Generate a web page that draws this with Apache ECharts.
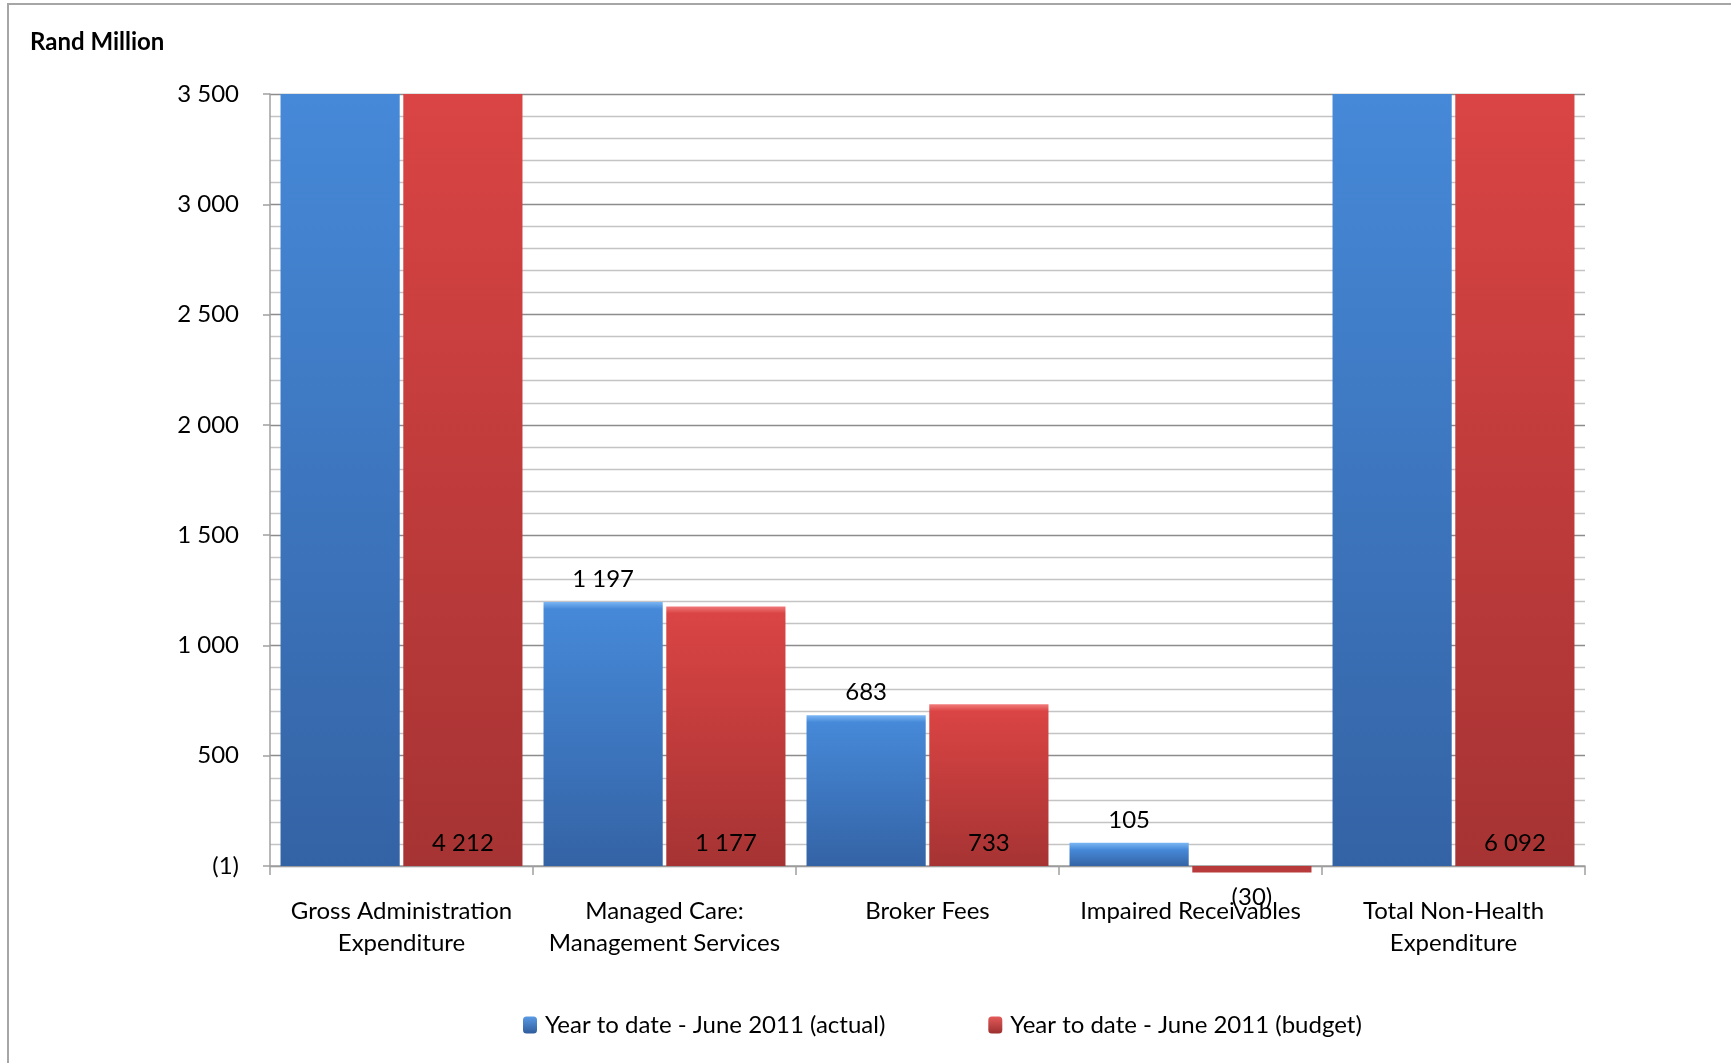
<!DOCTYPE html>
<html>
<head>
<meta charset="utf-8">
<title>Non-Health Expenditure</title>
<script src="https://cdn.jsdelivr.net/npm/echarts@6/dist/echarts.min.js"></script>
<style>
  html, body { margin: 0; padding: 0; background: #fff; }
  #chart { width: 1731px; height: 1063px; }
</style>
</head>
<body>
<div id="chart"></div>
<script>
// Expenditure categories (x axis)
const categories = [
  'Gross Administration\nExpenditure',
  'Managed Care:\nManagement Services',
  'Broker Fees',
  'Impaired Receivables',
  'Total Non-Health\nExpenditure'
];

// Rand million, year to date June 2011
const actualValues = [4050, 1197, 683, 105, 6035];
const budgetValues = [4212, 1177, 733, -30, 6092];

// Value axis
const yMin = 0;
const yMax = 3500;
const yStep = 500;
const yTickLabels = ['(1)', '500', '1 000', '1 500', '2 000', '2 500', '3 000', '3 500'];

const seriesNames = ['Year to date - June 2011 (actual)', 'Year to date - June 2011 (budget)'];

const FONT = 'Lato, "Open Sans", sans-serif';
const CHART_H = 1063;
const GRID = { left: 270, right: 146, top: 94, bottom: 197 };
const PLOT_H = CHART_H - GRID.top - GRID.bottom;
const BEVEL_PX = 7;

function fmt(v) {
  const s = Math.abs(v).toString().replace(/\B(?=(\d{3})+(?!\d))/g, ' ');
  return v < 0 ? '(' + s + ')' : s;
}

// Vertical shading; bars whose top is inside the plot get a lighter bevelled top edge
function barFill(v, pal) {
  const stops = [];
  if (v > 0 && v <= yMax) {
    const h = v / (yMax - yMin) * PLOT_H;
    const b = Math.min(0.45, BEVEL_PX / h);
    stops.push({ offset: 0, color: pal.edge });
    stops.push({ offset: b, color: pal.top });
  } else {
    stops.push({ offset: 0, color: pal.top });
  }
  stops.push({ offset: 1, color: pal.bottom });
  return new echarts.graphic.LinearGradient(0, 0, 0, 1, stops);
}

const bluePal = { edge: '#7ab6f4', top: '#4689d8', bottom: '#3463a5' };
const redPal = { edge: '#f27a7a', top: '#da4444', bottom: '#a63333' };

const labelFont = { fontFamily: FONT, fontSize: 24, color: '#000' };

const actualData = actualValues.map(v => ({
  value: v,
  itemStyle: { color: barFill(v, bluePal) },
  label: { show: v <= yMax, position: 'top', distance: 11, formatter: p => fmt(p.value), ...labelFont }
}));

const budgetPositive = budgetValues.map(v => v >= 0 ? {
  value: v,
  itemStyle: { color: barFill(v, redPal) },
  label: { show: true, position: 'insideBottom', distance: 11, formatter: p => fmt(p.value), ...labelFont }
} : '-');

const budgetNegative = budgetValues.map(v => v < 0 ? {
  value: v,
  itemStyle: { color: '#b83a3a' },
  label: { show: true, position: 'bottom', distance: 13, formatter: p => fmt(p.value), ...labelFont }
} : '-');

const chart = echarts.init(document.getElementById('chart'), null, { renderer: 'canvas' });

chart.setOption({
  animation: false,
  backgroundColor: '#fff',
  graphic: [{
    type: 'rect',
    shape: { x: 8, y: 4, width: 1800, height: 1200 },
    style: { fill: 'none', stroke: '#a6a6a6', lineWidth: 2 },
    silent: true,
    z: -10
  }],
  title: {
    text: 'Rand Million',
    left: 25,
    top: 25,
    textStyle: { fontFamily: FONT, fontSize: 24, fontWeight: 'bold', color: '#000' }
  },
  legend: {
    left: 518,
    top: 1008,
    itemWidth: 14,
    itemHeight: 17,
    itemGap: 103,
    data: [
      { name: seriesNames[0], itemStyle: { color: new echarts.graphic.LinearGradient(0, 0, 0, 1, [{ offset: 0, color: '#5a9ae4' }, { offset: 1, color: '#2f5c9c' }]) } },
      { name: seriesNames[1], itemStyle: { color: new echarts.graphic.LinearGradient(0, 0, 0, 1, [{ offset: 0, color: '#e45a5a' }, { offset: 1, color: '#9c2f2f' }]) } }
    ],
    textStyle: { fontFamily: FONT, fontSize: 24, color: '#000', padding: [0, 0, 0, 3] }
  },
  grid: { left: GRID.left, right: GRID.right, top: GRID.top, bottom: GRID.bottom, containLabel: false },
  xAxis: {
    type: 'category',
    data: categories,
    axisLine: { show: true, lineStyle: { color: '#a0a0a0', width: 1.5 } },
    axisTick: { show: true, length: 9, lineStyle: { color: '#a0a0a0', width: 1.5 } },
    axisLabel: {
      margin: 29,
      interval: 0,
      fontFamily: FONT,
      fontSize: 24,
      lineHeight: 32,
      color: '#000'
    }
  },
  yAxis: {
    type: 'value',
    min: yMin,
    max: yMax,
    interval: yStep,
    axisLine: { show: true, lineStyle: { color: '#a0a0a0', width: 1.5 } },
    axisTick: { show: true, length: 7, lineStyle: { color: '#a0a0a0', width: 1.5 } },
    minorTick: { show: false, splitNumber: 5 },
    axisLabel: {
      margin: 31,
      fontFamily: FONT,
      fontSize: 24,
      color: '#000',
      formatter: v => yTickLabels[Math.round((v - yMin) / yStep)]
    },
    splitLine: { show: true, lineStyle: { color: '#8c8c8c', width: 1.3 } },
    minorSplitLine: { show: true, lineStyle: { color: '#c4c4c4', width: 1.3 } }
  },
  series: [
    {
      name: seriesNames[0],
      type: 'bar',
      data: actualData,
      barGap: '3%',
      barCategoryGap: '8%',
      itemStyle: { color: '#4689d8' },
      clip: true
    },
    {
      name: seriesNames[1],
      type: 'bar',
      stack: 'budget',
      data: budgetPositive,
      barGap: '3%',
      barCategoryGap: '8%',
      itemStyle: { color: '#da4444' },
      clip: true
    },
    {
      name: seriesNames[1],
      type: 'bar',
      stack: 'budget',
      data: budgetNegative,
      barGap: '3%',
      barCategoryGap: '8%',
      itemStyle: { color: '#da4444' },
      clip: false
    }
  ]
});
</script>
</body>
</html>
